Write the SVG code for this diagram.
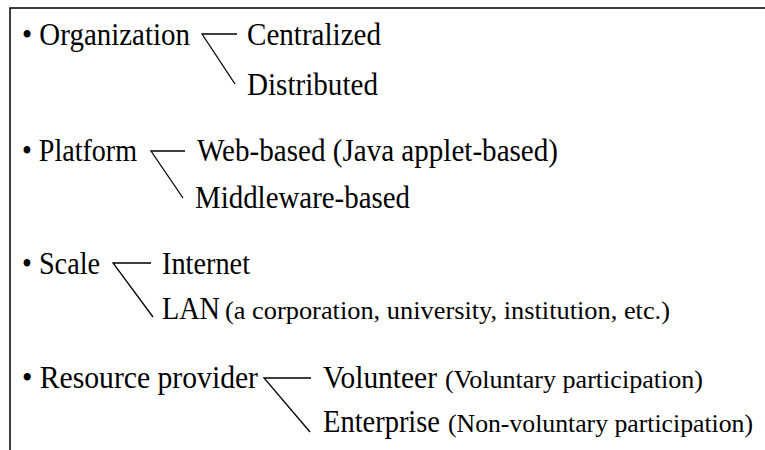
<svg xmlns="http://www.w3.org/2000/svg" width="765" height="450" viewBox="0 0 765 450">
<style>
text{font-family:'Liberation Serif','Times New Roman',serif;fill:#000;font-size:31px}
.s{font-size:25px}
.c{stroke:#000;stroke-width:1.3;fill:none}
.f{stroke:#000;stroke-width:1.5;fill:none}
</style>
<rect width="765" height="450" fill="#fff"/>
<path class="f" d="M10,450 V8 H765"/>
<g id="connectors">
<path class="c" d="M237,34 H202 L235,84"/>
<path class="c" d="M185,151 H151 L183,198"/>
<path class="c" d="M151,263 H113 L153,317"/>
<path class="c" d="M311,378 H264 L310,432"/>
</g>
<g id="organization">
<text x="22" y="45" textLength="168" lengthAdjust="spacingAndGlyphs">• Organization</text>
<text x="247" y="45" textLength="134" lengthAdjust="spacingAndGlyphs">Centralized</text>
<text x="247" y="95" textLength="131" lengthAdjust="spacingAndGlyphs">Distributed</text>
</g>
<g id="platform">
<text x="22" y="161" textLength="115" lengthAdjust="spacingAndGlyphs">• Platform</text>
<text x="197" y="161" textLength="361" lengthAdjust="spacingAndGlyphs">Web-based (Java applet-based)</text>
<text x="195" y="208" textLength="215" lengthAdjust="spacingAndGlyphs">Middleware-based</text>
</g>
<g id="scale">
<text x="22" y="274" textLength="78" lengthAdjust="spacingAndGlyphs">• Scale</text>
<text x="162" y="274" textLength="88" lengthAdjust="spacingAndGlyphs">Internet</text>
<text x="162" y="319" textLength="58" lengthAdjust="spacingAndGlyphs">LAN</text>
<text class="s" x="225" y="319" textLength="445" lengthAdjust="spacingAndGlyphs">(a corporation, university, institution, etc.)</text>
</g>
<g id="resource">
<text x="22" y="388" textLength="236" lengthAdjust="spacingAndGlyphs">• Resource provider</text>
<text x="323" y="388" textLength="114" lengthAdjust="spacingAndGlyphs">Volunteer</text>
<text class="s" x="445" y="388" textLength="258" lengthAdjust="spacingAndGlyphs">(Voluntary participation)</text>
<text x="323" y="432" textLength="117" lengthAdjust="spacingAndGlyphs">Enterprise</text>
<text class="s" x="448" y="432" textLength="305" lengthAdjust="spacingAndGlyphs">(Non-voluntary participation)</text>
</g>
</svg>
